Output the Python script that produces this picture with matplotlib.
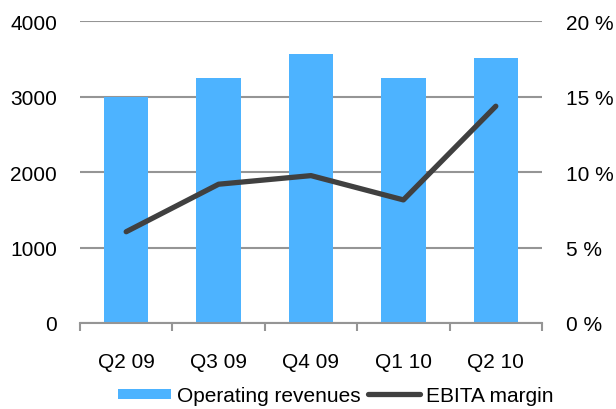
import matplotlib
matplotlib.use('Agg')
import numpy as np
from matplotlib import pyplot as plt
from matplotlib.lines import Line2D

plt.rcParams['font.family'] = ['Liberation Sans', 'DejaVu Sans']
plt.rcParams['font.size'] = 15

quarters = ['Q2 09', 'Q3 09', 'Q4 09', 'Q1 10', 'Q2 10']
revenues = [3000, 3250, 3570, 3250, 3515]
ebita_margin = [6.05, 9.2, 9.77, 8.16, 14.37]

rev_ticks = [0, 1000, 2000, 3000, 4000]
pct_ticks = [0, 5, 10, 15, 20]

bar_color = '#4DB3FF'
line_color = '#404040'
grid_color = '#959595'

fig = plt.figure(figsize=(6.16, 4.10), dpi=100)
ax = fig.add_axes([80 / 616, 86 / 410, 462 / 616, 301.7 / 410])
x = np.arange(len(quarters))

ax.bar(x, revenues, width=0.48, color=bar_color, zorder=2)
ax.set_xlim(-0.5, len(quarters) - 0.5)
ax.set_ylim(0, 4000)
ax.set_yticks(rev_ticks)
ax.set_yticklabels([str(v) for v in rev_ticks])
ax.yaxis.grid(True, color=grid_color, linewidth=1.5, zorder=0)
ax.set_axisbelow(True)
ax.tick_params(axis='y', length=0, pad=16.5)

# category labels centred, tick marks on category boundaries
ax.set_xticks(x)
ax.set_xticklabels(quarters)
ax.set_xticks(np.arange(-0.5, len(quarters)), minor=True)
ax.tick_params(axis='x', which='major', length=0, pad=21)
ax.tick_params(axis='x', which='minor', length=6, width=1.5, color=grid_color,
               direction='out')

for side in ['top', 'left', 'right']:
    ax.spines[side].set_visible(False)
ax.spines['bottom'].set_color(grid_color)
ax.spines['bottom'].set_linewidth(1.5)
ax.spines['bottom'].set_zorder(3)

ax2 = ax.twinx()
ax2.plot(x, ebita_margin, color=line_color, linewidth=3.8,
         solid_capstyle='round', solid_joinstyle='round', zorder=4)
ax2.set_ylim(0, 20)
ax2.set_yticks(pct_ticks)
ax2.set_yticklabels(['%d %%' % v for v in pct_ticks])
ax2.tick_params(axis='y', length=0, pad=17.5)
for side in ['top', 'left', 'right', 'bottom']:
    ax2.spines[side].set_visible(False)

handles = [
    Line2D([0], [0], color=bar_color, linewidth=7.2, solid_capstyle='butt'),
    Line2D([0], [0], color=line_color, linewidth=3.8, solid_capstyle='round'),
]
fig.legend(handles, ['Operating revenues', 'EBITA margin'],
           loc='center', bbox_to_anchor=(336 / 616, 1 - 397 / 410),
           ncol=2, frameon=False, handlelength=2.5, handletextpad=0.3,
           columnspacing=0.35, borderaxespad=0, borderpad=0)

fig.savefig('out.png', dpi=100)
